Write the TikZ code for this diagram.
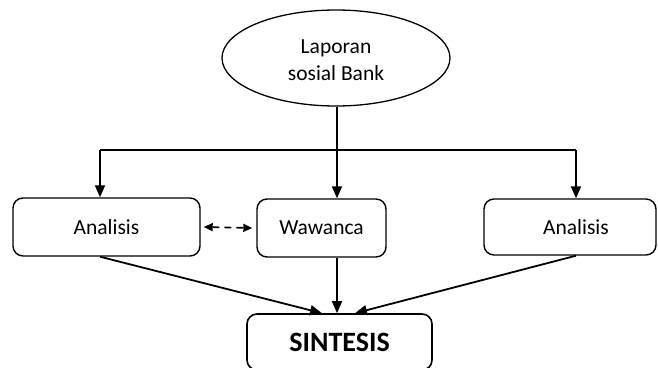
\documentclass[tikz,border=0pt]{standalone}
\usepackage{fontspec}
\setmainfont{Carlito}
\usetikzlibrary{shapes.geometric,arrows.meta}
\begin{document}
\begin{tikzpicture}[x=1pt,y=-1pt,
  box/.style={draw,line width=1.4pt,rounded corners=10pt,font=\fontsize{21.5}{26}\selectfont,inner sep=0pt},
  conn/.style={line width=1.8pt},
  arr/.style={line width=1.8pt,-{Triangle[length=12pt,width=10pt]}},
  darr/.style={line width=1.6pt,dash pattern=on 7pt off 5pt,{Triangle[length=9pt,width=8pt]}-{Triangle[length=9pt,width=8pt]}}]
\useasboundingbox (0,0) rectangle (658,367);
\node[draw,ellipse,line width=1.3pt,minimum width=228pt,minimum height=96pt,inner sep=0pt,align=center,font=\fontsize{21.5}{27}\selectfont] (e) at (336,58) {\\[-9pt]Laporan\\sosial Bank};
\node[box,minimum width=187pt,minimum height=58pt] (a1) at (106.5,227) {Analisis};
\node[box,minimum width=129pt,minimum height=58pt] (w) at (321.5,228) {Wawanca};
\node[box,minimum width=172pt,minimum height=56pt] (a2) at (570,227) {\hspace*{12pt}Analisis};
\node[box,line width=1.6pt,minimum width=185pt,minimum height=56pt,font=\fontsize{28}{32}\selectfont\bfseries] (s) at (339.5,342) {SINTESIS};
\coordinate (hl) at (100,150);
\coordinate (hm) at (337,150);
\coordinate (hr) at (576,150);
\draw[line width=1.1pt] (e.south -| hm) -- (hm);
\draw[conn] (hl) -- (hr);
\draw[arr] (hl) -- (hl |- a1.north);
\draw[arr] (hm) -- (hm |- w.north);
\draw[arr] (hr) -- (hr |- a2.north);
\draw[darr] ([xshift=3pt]a1.east) -- ([xshift=-4pt]w.west);
\draw[arr] (hl |- a1.south) -- ([xshift=-17.5pt]s.north);
\draw[arr] (hm |- w.south) -- ([xshift=-2.5pt]s.north);
\draw[arr] (hr |- a2.south) -- ([xshift=15.5pt]s.north);
\end{tikzpicture}
\end{document}
